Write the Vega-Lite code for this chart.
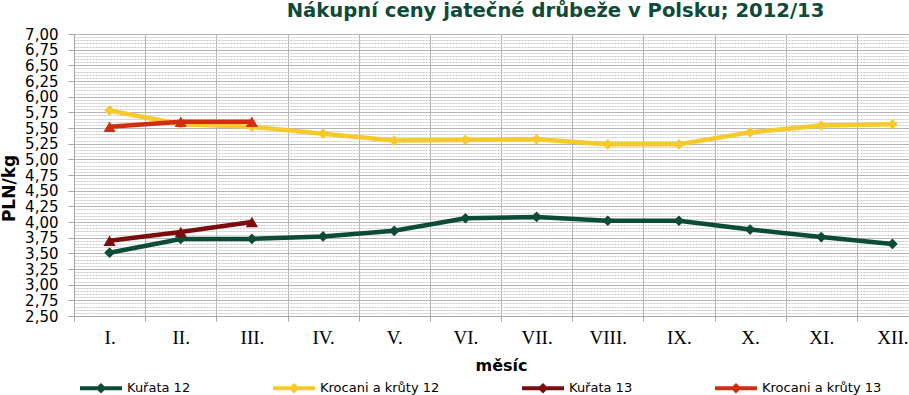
{
  "$schema": "https://vega.github.io/schema/vega-lite/v6.json",
  "autosize": {"type": "none"},
  "padding": {"left": 74, "top": 34, "right": 0, "bottom": 79},
  "width": 835,
  "height": 282,
  "background": "white",
  "title": {
    "text": "Nákupní ceny jatečné drůbeže v Polsku; 2012/13",
    "font": "DejaVu Sans",
    "fontSize": 19.6,
    "fontWeight": "bold",
    "color": "#0e4a38",
    "anchor": "middle",
    "dx": 64,
    "offset": 5
  },
  "config": {
    "view": {"stroke": null},
    "legend": {"padding": 0}
  },
  "data": {
    "values": [
      {"mesic": "I.", "rada": "Kuřata 12", "cena": 3.51},
      {"mesic": "II.", "rada": "Kuřata 12", "cena": 3.73},
      {"mesic": "III.", "rada": "Kuřata 12", "cena": 3.73},
      {"mesic": "IV.", "rada": "Kuřata 12", "cena": 3.77},
      {"mesic": "V.", "rada": "Kuřata 12", "cena": 3.86},
      {"mesic": "VI.", "rada": "Kuřata 12", "cena": 4.06},
      {"mesic": "VII.", "rada": "Kuřata 12", "cena": 4.08},
      {"mesic": "VIII.", "rada": "Kuřata 12", "cena": 4.02},
      {"mesic": "IX.", "rada": "Kuřata 12", "cena": 4.02},
      {"mesic": "X.", "rada": "Kuřata 12", "cena": 3.88},
      {"mesic": "XI.", "rada": "Kuřata 12", "cena": 3.76},
      {"mesic": "XII.", "rada": "Kuřata 12", "cena": 3.65},
      {"mesic": "I.", "rada": "Krocani a krůty 12", "cena": 5.78},
      {"mesic": "II.", "rada": "Krocani a krůty 12", "cena": 5.56},
      {"mesic": "III.", "rada": "Krocani a krůty 12", "cena": 5.52},
      {"mesic": "IV.", "rada": "Krocani a krůty 12", "cena": 5.41},
      {"mesic": "V.", "rada": "Krocani a krůty 12", "cena": 5.30},
      {"mesic": "VI.", "rada": "Krocani a krůty 12", "cena": 5.31},
      {"mesic": "VII.", "rada": "Krocani a krůty 12", "cena": 5.32},
      {"mesic": "VIII.", "rada": "Krocani a krůty 12", "cena": 5.24},
      {"mesic": "IX.", "rada": "Krocani a krůty 12", "cena": 5.24},
      {"mesic": "X.", "rada": "Krocani a krůty 12", "cena": 5.43},
      {"mesic": "XI.", "rada": "Krocani a krůty 12", "cena": 5.54},
      {"mesic": "XII.", "rada": "Krocani a krůty 12", "cena": 5.56},
      {"mesic": "I.", "rada": "Kuřata 13", "cena": 3.70},
      {"mesic": "II.", "rada": "Kuřata 13", "cena": 3.84},
      {"mesic": "III.", "rada": "Kuřata 13", "cena": 4.00},
      {"mesic": "I.", "rada": "Krocani a krůty 13", "cena": 5.52},
      {"mesic": "II.", "rada": "Krocani a krůty 13", "cena": 5.60},
      {"mesic": "III.", "rada": "Krocani a krůty 13", "cena": 5.60}
    ]
  },
  "encoding": {
    "x": {
      "field": "mesic",
      "type": "nominal",
      "sort": ["I.", "II.", "III.", "IV.", "V.", "VI.", "VII.", "VIII.", "IX.", "X.", "XI.", "XII."],
      "scale": {"range": [0, 854], "paddingInner": 0, "paddingOuter": 0},
      "axis": {
        "title": "měsíc",
        "titleFont": "DejaVu Sans",
        "titleFontSize": 16,
        "titleFontWeight": "bold",
        "titleColor": "#000000",
        "titleBaseline": "alphabetic",
        "titleY": 54,
        "labelFont": "Liberation Serif",
        "labelFontSize": 19,
        "labelColor": "#000000",
        "labelAngle": 0,
        "labelPadding": 7,
        "labelOverlap": false,
        "tickBand": "extent",
        "tickExtra": true,
        "tickSize": 5,
        "tickColor": "#a8a8a8",
        "domainColor": "#a8a8a8",
        "grid": true,
        "gridColor": "#b4b4b4",
        "gridWidth": 1
      }
    },
    "y": {
      "field": "cena",
      "type": "quantitative",
      "scale": {"domain": [2.5, 7], "nice": false, "zero": false},
      "axis": {
        "title": "PLN/kg",
        "titleFont": "DejaVu Sans",
        "titleFontSize": 17,
        "titleFontWeight": "bold",
        "titleColor": "#000000",
        "titleAngle": -90,
        "titleAlign": "center",
        "titleBaseline": "middle",
        "titleX": -65,
        "titleY": 154,
        "values": [2.5, 2.55, 2.6, 2.65, 2.7, 2.75, 2.8, 2.85, 2.9, 2.95, 3, 3.05, 3.1, 3.15, 3.2, 3.25, 3.3, 3.35, 3.4, 3.45, 3.5, 3.55, 3.6, 3.65, 3.7, 3.75, 3.8, 3.85, 3.9, 3.95, 4, 4.05, 4.1, 4.15, 4.2, 4.25, 4.3, 4.35, 4.4, 4.45, 4.5, 4.55, 4.6, 4.65, 4.7, 4.75, 4.8, 4.85, 4.9, 4.95, 5, 5.05, 5.1, 5.15, 5.2, 5.25, 5.3, 5.35, 5.4, 5.45, 5.5, 5.55, 5.6, 5.65, 5.7, 5.75, 5.8, 5.85, 5.9, 5.95, 6, 6.05, 6.1, 6.15, 6.2, 6.25, 6.3, 6.35, 6.4, 6.45, 6.5, 6.55, 6.6, 6.65, 6.7, 6.75, 6.8, 6.85, 6.9, 6.95, 7],
        "labelExpr": "abs(datum.value*4 - round(datum.value*4)) < 0.001 ? replace(format(datum.value, '.2f'), '.', ',') : ''",
        "labelFont": "DejaVu Sans",
        "labelFontSize": 15,
        "labelColor": "#000000",
        "labelOverlap": false,
        "labelBound": false,
        "labelFlush": false,
        "labelPadding": 10,
        "tickSize": 6,
        "tickColor": "#a8a8a8",
        "tickOpacity": {"condition": {"test": "abs(datum.value*4 - round(datum.value*4)) < 0.001", "value": 1}, "value": 0},
        "domainColor": "#a8a8a8",
        "grid": true,
        "gridColor": {"condition": {"test": "abs(datum.value*4 - round(datum.value*4)) < 0.001", "value": "#b4b4b4"}, "value": "#c8c8c8"},
        "gridDash": {"condition": {"test": "abs(datum.value*4 - round(datum.value*4)) < 0.001", "value": []}, "value": [2, 1]}
      }
    },
    "color": {
      "field": "rada",
      "type": "nominal",
      "scale": {
        "domain": ["Kuřata 12", "Krocani a krůty 12", "Kuřata 13", "Krocani a krůty 13"],
        "range": ["#0c4b34", "#f6c92c", "#7a0d0d", "#cf2e10"]
      }
    }
  },
  "layer": [
    {
      "transform": [{"filter": "indexof(datum.rada, '12') >= 0"}],
      "mark": {"type": "line", "strokeWidth": 4.5},
      "encoding": {
        "color": {
          "field": "rada",
          "type": "nominal",
          "legend": {
            "orient": "none",
            "legendX": 4,
            "legendY": 331,
            "direction": "horizontal",
            "title": null,
            "symbolType": "M-1,0H1M-0.12,0L0,-0.12L0.12,0L0,0.12Z",
            "symbolSize": 1764,
            "symbolStrokeWidth": 4,
            "labelFont": "DejaVu Sans",
            "labelFontSize": 13,
            "labelColor": "#000000",
            "labelOffset": 3,
            "columnPadding": 74
          }
        }
      }
    },
    {
      "transform": [{"filter": "indexof(datum.rada, '12') >= 0"}],
      "mark": {"type": "point", "filled": true, "opacity": 1, "shape": "diamond", "size": 115}
    },
    {
      "transform": [{"filter": "indexof(datum.rada, '13') >= 0"}],
      "mark": {"type": "line", "strokeWidth": 4.5}
    },
    {
      "transform": [{"filter": "indexof(datum.rada, '13') >= 0"}],
      "mark": {"type": "point", "filled": true, "opacity": 1, "shape": "triangle-up", "size": 150}
    }
  ]
}
